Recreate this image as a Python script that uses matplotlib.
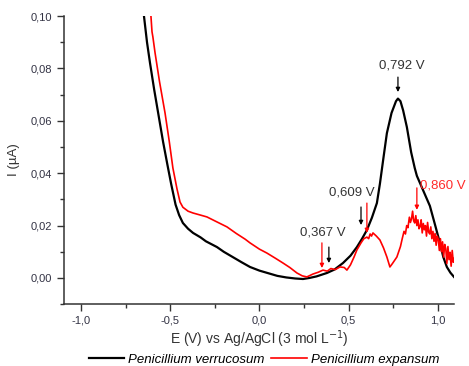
import matplotlib.pyplot as plt
from matplotlib.ticker import FuncFormatter, MultipleLocator

plt.rcParams['font.family'] = ['Liberation Sans', 'DejaVu Sans']

# Penicillium verrucosum (black)
verr_x = [-0.647, -0.630, -0.613, -0.590, -0.565, -0.540, -0.515, -0.495, -0.470, -0.450,
          -0.429, -0.400, -0.372, -0.330, -0.300, -0.238, -0.200, -0.150, -0.100, -0.053,
          0.000, 0.050, 0.100, 0.150, 0.200, 0.244, 0.280, 0.320, 0.378, 0.420,
          0.468, 0.510, 0.546, 0.575, 0.602, 0.630, 0.658, 0.675, 0.695, 0.714,
          0.740, 0.765, 0.776, 0.790, 0.805, 0.826, 0.850, 0.870, 0.882, 0.920,
          0.955, 0.985, 1.011, 1.030, 1.050, 1.070, 1.090]
verr_y = [0.100, 0.090, 0.082, 0.072, 0.062, 0.052, 0.043, 0.036, 0.028, 0.024,
          0.021, 0.0188, 0.0172, 0.0155, 0.0140, 0.0118, 0.0100, 0.0080, 0.0060, 0.0042,
          0.0028, 0.0018, 0.0008, 0.0002, -0.0002, -0.0004, 0.0000, 0.0006, 0.0019, 0.0032,
          0.0057, 0.0085, 0.0118, 0.0150, 0.0183, 0.0230, 0.0286, 0.0360, 0.0460, 0.0553,
          0.0630, 0.0675, 0.0685, 0.0675, 0.0640, 0.0576, 0.0480, 0.0420, 0.0390, 0.0330,
          0.0275, 0.0200, 0.0134, 0.0080, 0.0042, 0.0020, 0.0004]

# Penicillium expansum (red)
exp_x = [-0.608, -0.602, -0.597, -0.585, -0.560, -0.529, -0.505, -0.485, -0.462, -0.445,
         -0.429, -0.400, -0.372, -0.330, -0.294, -0.250, -0.182, -0.130, -0.080, -0.053,
         0.000, 0.042, 0.090, 0.132, 0.170, 0.210, 0.240, 0.266, 0.300, 0.330,
         0.356, 0.380, 0.400, 0.425, 0.451, 0.475, 0.490, 0.510, 0.530, 0.546,
         0.570, 0.585, 0.602, 0.612, 0.620, 0.628, 0.636, 0.655, 0.675, 0.695,
         0.714, 0.731, 0.745, 0.770, 0.790,
         0.800, 0.810, 0.818, 0.825, 0.832, 0.840, 0.846, 0.852, 0.858, 0.864,
         0.870, 0.876, 0.882, 0.888, 0.894, 0.900, 0.906, 0.912, 0.918, 0.924,
         0.930, 0.936, 0.942, 0.948, 0.954, 0.960, 0.966, 0.972, 0.978, 0.984,
         0.990, 0.996, 1.002, 1.008, 1.014, 1.020, 1.026, 1.032, 1.038, 1.044,
         1.050, 1.056, 1.062, 1.068, 1.074, 1.080, 1.086, 1.092]
exp_y = [0.100, 0.094, 0.092, 0.086, 0.075, 0.063, 0.052, 0.042, 0.034, 0.029,
         0.027, 0.0255, 0.0248, 0.0240, 0.0233, 0.0218, 0.0195, 0.0170, 0.0148, 0.0134,
         0.0110, 0.0095, 0.0075, 0.0057, 0.0040, 0.0019, 0.0008, 0.0004, 0.0015, 0.0022,
         0.0030, 0.0026, 0.0036, 0.0032, 0.0042, 0.0040, 0.0030, 0.0050, 0.0080, 0.0107,
         0.0135, 0.0150, 0.0156, 0.0150, 0.0168, 0.0160, 0.0172, 0.0160, 0.0145, 0.0115,
         0.0080, 0.0042, 0.0055, 0.0080, 0.0120,
         0.0150, 0.0178, 0.0168, 0.0200, 0.0192, 0.0232, 0.0212, 0.0226, 0.0255, 0.0218,
         0.0210, 0.0238, 0.0200, 0.0222, 0.0188, 0.0196, 0.0222, 0.0172, 0.0208, 0.0184,
         0.0200, 0.0160, 0.0212, 0.0175, 0.0168, 0.0195, 0.0150, 0.0178, 0.0140, 0.0170,
         0.0125, 0.0160, 0.0148, 0.0105, 0.0150, 0.0100, 0.0138, 0.0080, 0.0128, 0.0112,
         0.0055, 0.0120, 0.0070, 0.0098, 0.0045, 0.0105, 0.0060, 0.0075]

# peak labels: text, text x, text y, color
peak_labels = ['0,792 V', '0,609 V', '0,367 V', '0,860 V']
peak_text_x = [0.798, 0.518, 0.356, 1.028]
peak_text_y = [0.0813, 0.0328, 0.0172, 0.0355]
peak_text_c = ['#333333', '#333333', '#333333', '#ff2a2a']

# arrows: x, y start, y end, color
arrow_x = [0.776, 0.569, 0.602, 0.350, 0.389, 0.882]
arrow_y0 = [0.0767, 0.0271, 0.0286, 0.0134, 0.0118, 0.0344]
arrow_y1 = [0.0710, 0.0202, 0.0172, 0.0038, 0.0057, 0.0260]
arrow_c = ['black', 'black', 'red', 'red', 'black', 'red']

fig = plt.figure(figsize=(4.69, 3.66), dpi=100)
ax = fig.add_axes([0.1365, 0.169, 0.8315, 0.787])

ax.plot(verr_x, verr_y, color='black', lw=1.6, label='Penicillium verrucosum')
ax.plot(exp_x, exp_y, color='red', lw=1.2, label='Penicillium expansum')

for t, x, y, c in zip(peak_labels, peak_text_x, peak_text_y, peak_text_c):
    ax.text(x, y, t, color=c, fontsize=9.5, ha='center', va='center', clip_on=False)

for x, y0, y1, c in zip(arrow_x, arrow_y0, arrow_y1, arrow_c):
    ax.annotate('', xy=(x, y1), xytext=(x, y0),
                arrowprops=dict(arrowstyle='-|>', color=c, lw=0.9, mutation_scale=6,
                                shrinkA=0, shrinkB=0))

ax.set_xlim(-1.095, 1.09)
ax.set_ylim(-0.01, 0.10)
ax.xaxis.set_major_locator(MultipleLocator(0.5))
ax.xaxis.set_minor_locator(MultipleLocator(0.25))
ax.yaxis.set_major_locator(MultipleLocator(0.02))
ax.yaxis.set_minor_locator(MultipleLocator(0.01))
ax.xaxis.set_major_formatter(FuncFormatter(lambda v, p: f'{v:.1f}'.replace('.', ',').replace('-0,0', '0,0')))
ax.yaxis.set_major_formatter(FuncFormatter(lambda v, p: f'{v:.2f}'.replace('.', ',').replace('-0,00', '0,00')))

for s in ['top', 'right']:
    ax.spines[s].set_visible(False)
for s in ['left', 'bottom']:
    ax.spines[s].set_color('#333333')
    ax.spines[s].set_linewidth(1.1)
ax.tick_params(which='major', direction='out', length=5, width=1, color='#333333',
               labelsize=8, labelcolor='#333344')
ax.tick_params(which='minor', direction='out', length=3, width=1, color='#333333')

ax.set_xlabel('E (V) vs Ag/AgCl (3 mol L$^{-1}$)', fontsize=10, color='#333333', labelpad=2)
ax.set_ylabel('I (µA)', fontsize=9.5, color='#333333', labelpad=8)

fig.legend(loc='center', bbox_to_anchor=(0.563, 0.018), ncol=2, frameon=False,
           prop={'style': 'italic', 'size': 9.5}, handlelength=2.7, handletextpad=0.3,
           columnspacing=0.5, borderpad=0)

fig.savefig('out.png', dpi=100)
